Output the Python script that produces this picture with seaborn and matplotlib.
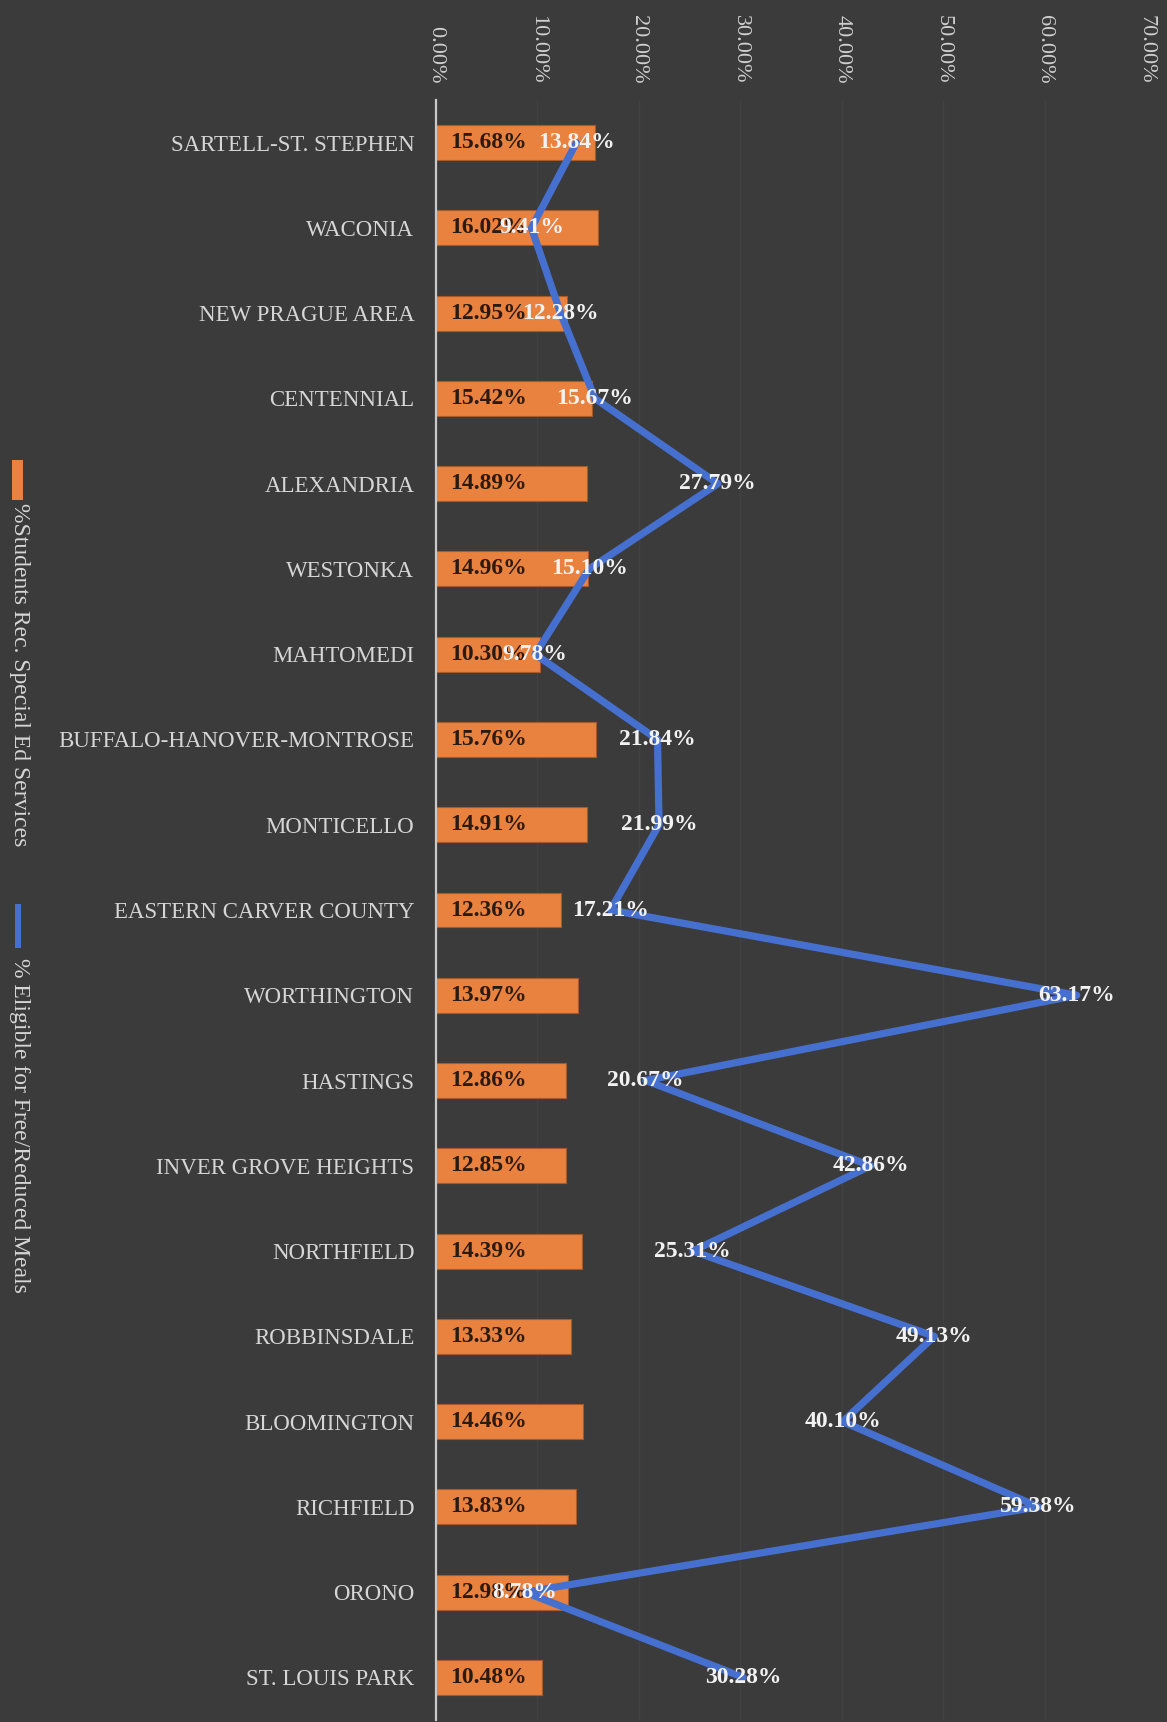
import numpy as np
import pandas as pd
import matplotlib
matplotlib.use("Agg")
import matplotlib.pyplot as plt
from matplotlib.ticker import PercentFormatter, MultipleLocator
from matplotlib.patches import Rectangle
import seaborn as sns

districts = [
    "SARTELL-ST. STEPHEN", "WACONIA", "NEW PRAGUE AREA", "CENTENNIAL",
    "ALEXANDRIA", "WESTONKA", "MAHTOMEDI", "BUFFALO-HANOVER-MONTROSE",
    "MONTICELLO", "EASTERN CARVER COUNTY", "WORTHINGTON", "HASTINGS",
    "INVER GROVE HEIGHTS", "NORTHFIELD", "ROBBINSDALE", "BLOOMINGTON",
    "RICHFIELD", "ORONO", "ST. LOUIS PARK",
]
special_ed_pct = [15.68, 16.02, 12.95, 15.42, 14.89, 14.96, 10.30, 15.76,
                  14.91, 12.36, 13.97, 12.86, 12.85, 14.39, 13.33, 14.46,
                  13.83, 12.98, 10.48]
free_reduced_pct = [13.84, 9.41, 12.28, 15.67, 27.79, 15.10, 9.78, 21.84,
                    21.99, 17.21, 63.17, 20.67, 42.86, 25.31, 49.13, 40.10,
                    59.38, 8.78, 30.28]
special_ed_label = "%Students Rec. Special Ed Services"
free_reduced_label = "% Eligible for Free/Reduced Meals"

BG = "#3b3b3b"
ORANGE = "#e9823e"
BLUE = "#4670cf"
LIGHT = "#d6d6d6"
SERIF = ["Liberation Serif", "DejaVu Serif"]

sns.set_theme(style="dark")
plt.rcParams["font.family"] = SERIF

df = pd.DataFrame({
    "district": districts,
    "sped": np.array(special_ed_pct) / 100,
    "frl": np.array(free_reduced_pct) / 100,
    "pos": np.arange(len(districts)),
})

W, H = 1167, 1722
fig = plt.figure(figsize=(W / 100, H / 100), dpi=100, facecolor=BG)
ax = fig.add_axes([436 / W, 2 / H, (1146 - 436) / W, (1720 - 100) / H])
ax.set_facecolor(BG)

sns.barplot(data=df, y="district", x="sped", orient="h", color=ORANGE,
            width=0.41, saturation=1, edgecolor="#a85a2a", linewidth=0.8,
            ax=ax, zorder=2)
sns.lineplot(data=df, x="frl", y="pos", sort=False, orient="y", color=BLUE,
             linewidth=5.2, ax=ax, zorder=3)

ax.set_xlim(0, 0.70)
ax.set_ylim(len(districts) - 0.5, -0.5)
ax.xaxis.set_major_locator(MultipleLocator(0.10))
ax.xaxis.set_major_formatter(PercentFormatter(1, decimals=2))
ax.xaxis.tick_top()
ax.tick_params(axis="x", length=0, pad=12, labelsize=16, labelcolor="#cfcfcf",
               labelrotation=-90)
ax.tick_params(axis="y", length=0, pad=15.5, labelsize=16.5, labelcolor=LIGHT)
for lab in ax.get_xticklabels():
    lab.set_va("bottom")
ax.set_xlabel("")
ax.set_ylabel("")
ax.grid(axis="x", color="#414141", linewidth=1.0, zorder=0)
ax.grid(axis="y", visible=False)
for side in ["top", "right", "bottom"]:
    ax.spines[side].set_visible(False)
ax.spines["left"].set_color("#c9c9c9")
ax.spines["left"].set_linewidth(1.6)
ax.spines["left"].set_zorder(4)

# bar values, placed just inside the bar base
for i, v in enumerate(df["sped"]):
    ax.annotate(f"{v * 100:.2f}%", xy=(0, i), xytext=(10, 0),
                textcoords="offset points", ha="left", va="center",
                fontsize=17, fontweight="bold", color="#2b1a10", zorder=5)

# line values, centred on each point
for i, v in enumerate(df["frl"]):
    ax.text(v, i, f"{v * 100:.2f}%", ha="center", va="center",
            fontsize=17, fontweight="bold", color="#f2f2f2", zorder=6)

# legend, set vertically along the left edge
fig.patches.append(Rectangle((12 / W, 1 - 500 / H), 11 / W, 40 / H,
                             transform=fig.transFigure, facecolor=ORANGE,
                             edgecolor="none"))
fig.text(19 / W, 1 - 503 / H, special_ed_label, rotation=-90, ha="center",
         va="top", fontsize=17, color=LIGHT)
fig.patches.append(Rectangle((15 / W, 1 - 948 / H), 6 / W, 44 / H,
                             transform=fig.transFigure, facecolor=BLUE,
                             edgecolor="none"))
fig.text(19 / W, 1 - 958 / H, free_reduced_label, rotation=-90, ha="center",
         va="top", fontsize=17, color=LIGHT)

fig.savefig("out.png", dpi=100, facecolor=BG)
